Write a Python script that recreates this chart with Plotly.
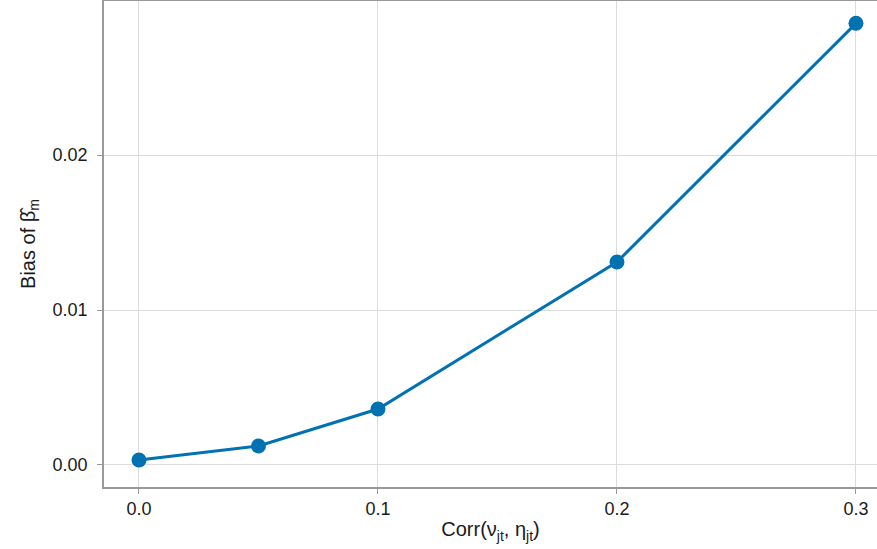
import plotly.graph_objects as go

corr = [0.0, 0.05, 0.1, 0.2, 0.3]
bias = [0.00032, 0.00123, 0.00361, 0.0131, 0.0285]

x_ticks = [0.0, 0.1, 0.2, 0.3]
x_labels = ["0.0", "0.1", "0.2", "0.3"]
y_ticks = [0.0, 0.01, 0.02]
y_labels = ["0.00", "0.01", "0.02"]

FONT = "Liberation Sans, Arial, Helvetica, sans-serif"

fig = go.Figure(go.Scatter(
    x=corr, y=bias, mode="lines+markers",
    line=dict(color="#0072B2", width=3),
    marker=dict(color="#0072B2", size=15),
))

axis_common = dict(
    showgrid=True, gridcolor="#dcdcdc", gridwidth=1,
    showline=True, linecolor="#999999", linewidth=1.5,
    ticks="outside", ticklen=5, tickcolor="#999999",
    tickfont=dict(family=FONT, size=18, color="#1a1a1a"),
    zeroline=False,
)

fig.update_xaxes(
    **axis_common, mirror=True,
    range=[-0.01464, 0.3088],
    tickvals=x_ticks, ticktext=x_labels,
    title=dict(text="Corr(ν<sub>jt</sub>, η<sub>jt</sub>)",
               font=dict(family=FONT, size=20, color="#1a1a1a"),
               standoff=4),
)
fig.update_yaxes(
    **axis_common,
    range=[-0.00142, 0.02994],
    tickvals=y_ticks, ticktext=y_labels,
    ticklabelstandoff=6,
    title=dict(text="Bias of β\u0302<sub>m</sub>",
               font=dict(family=FONT, size=20, color="#1a1a1a"),
               standoff=12),
)

fig.update_layout(
    width=877, height=549,
    margin=dict(l=104, r=0, t=1, b=62),
    plot_bgcolor="white", paper_bgcolor="white",
    showlegend=False,
)

fig.write_html("out.html", config={"displayModeBar": False},
               post_script="document.body.style.margin='0';document.body.style.padding='0';")
